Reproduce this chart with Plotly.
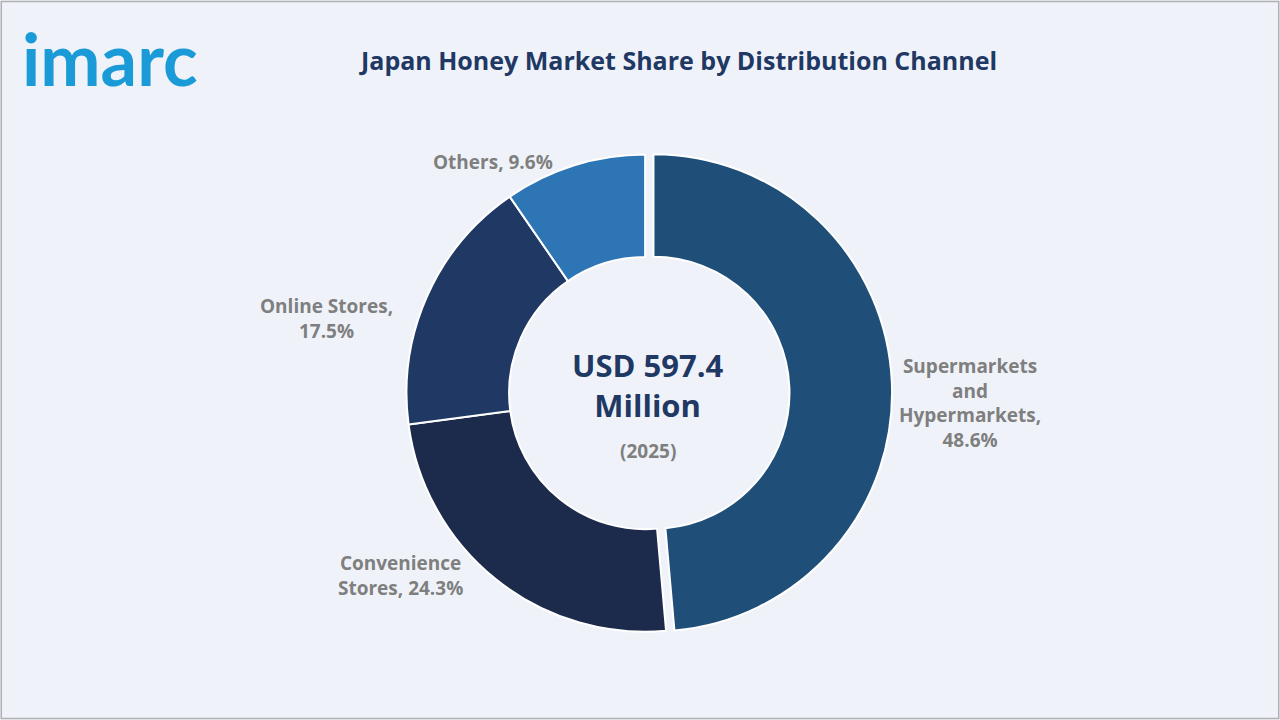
import plotly.graph_objects as go

categories = ["Supermarkets and Hypermarkets", "Convenience Stores", "Online Stores", "Others"]
shares = [48.6, 24.3, 17.5, 9.6]
label_texts = ["Supermarkets<br>and<br>Hypermarkets,<br>48.6%", "Convenience<br>Stores, 24.3%",
               "Online Stores,<br>17.5%", "Others, 9.6%"]
colors = ["#1f4e79", "#1c2a4b", "#203864", "#2e75b6"]

fig = go.Figure(go.Pie(
    labels=categories, values=shares, sort=False, direction="clockwise", rotation=0,
    hole=0.57, pull=[0.035, 0, 0, 0], marker=dict(colors=colors, line=dict(color="white", width=2)),
    textinfo="none", hoverinfo="label+percent",
    domain=dict(x=[0.311, 0.697], y=[0.111, 0.797]), showlegend=False))

lab_font = dict(family="Open Sans", size=19, color="#7f7f7f")
pos = [(0.758, 0.44), (0.3125, 0.201), (0.255, 0.558), (0.385, 0.775)]
ann = []
for t, (x, y) in zip(label_texts, pos):
    ann.append(dict(text="<b>" + t + "</b>", x=x, y=y, xref="paper", yref="paper", showarrow=False,
                    font=lab_font, align="center", xanchor="center", yanchor="middle"))
ann += [
    dict(text="<b>USD 597.4<br>Million</b>", x=0.506, y=0.465, font=dict(family="Open Sans", size=31, color="#1f3864")),
    dict(text="<b>(2025)</b>", x=0.506, y=0.374, font=dict(family="Open Sans", size=19, color="#7f7f7f")),
    dict(text="<b>Japan Honey Market Share by Distribution Channel</b>", x=0.53, y=0.917,
         font=dict(family="Open Sans", size=25, color="#1f3864")),
    dict(text="<b>imarc</b>", x=0.086, y=0.92, font=dict(family="Lato", size=72, color="#1a9bd7")),
]
for a in ann[4:]:
    a.update(xref="paper", yref="paper", showarrow=False, xanchor="center", yanchor="middle")
fig.update_layout(width=1280, height=720, margin=dict(l=0, r=0, t=0, b=0),
                  paper_bgcolor="#eff3f9", plot_bgcolor="#eff3f9", annotations=ann,
                  shapes=[dict(type="rect", xref="paper", yref="paper", x0=0.001, y0=0.002, x1=0.999, y1=0.998,
                               line=dict(color="#b0b0b0", width=1.5))])
fig.write_html("out.html", config={"displayModeBar": False},
               post_script="document.body.style.margin='0';document.body.style.overflow='hidden';")
